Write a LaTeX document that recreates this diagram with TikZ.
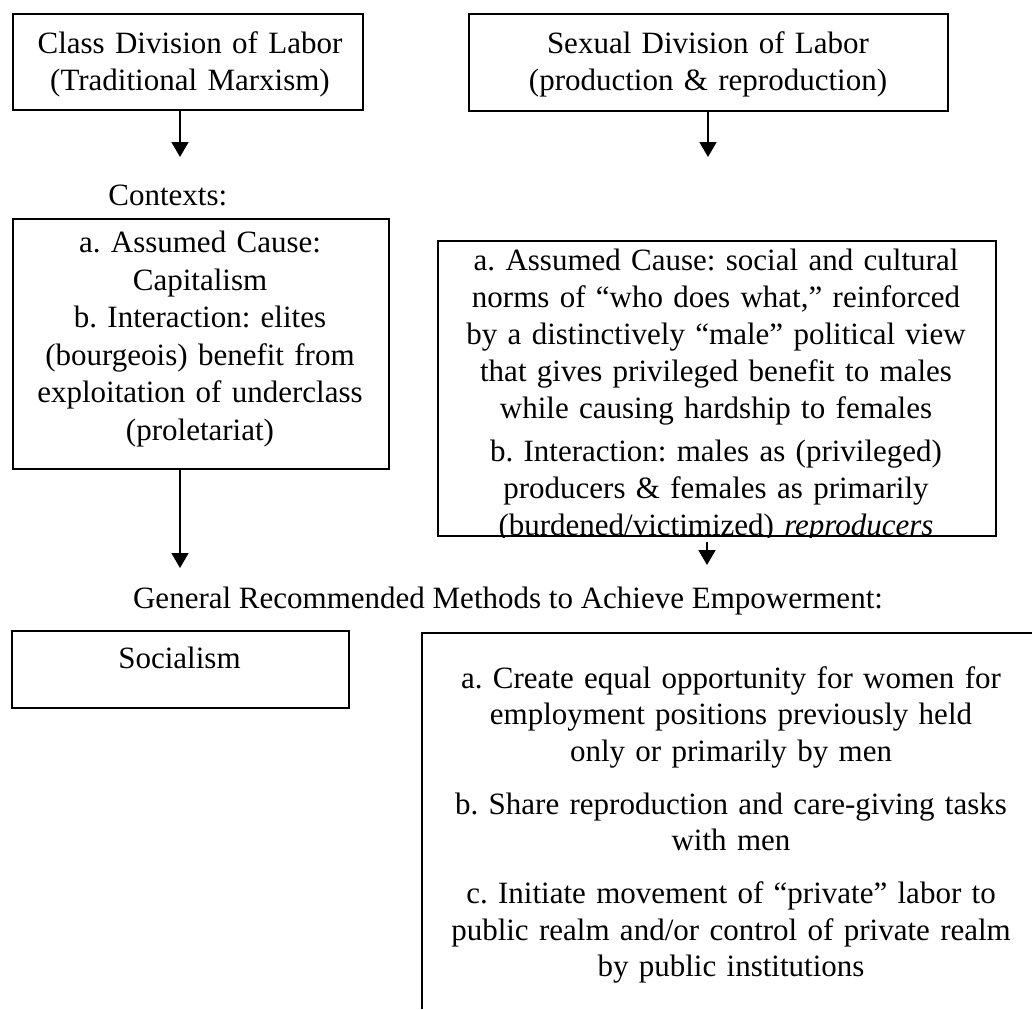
\documentclass[tikz,border=0pt]{standalone}
\usepackage{fontspec}
\setmainfont{Liberation Serif}
\usetikzlibrary{arrows.meta}
\frenchspacing
\begin{document}
\begin{tikzpicture}[x=0.5pt,y=-0.5pt,
  box/.style={draw,line width=1pt,rectangle,inner sep=0pt,anchor=north west},
  txt/.style={inner sep=0pt,anchor=north,align=center,text width=290pt,font=\fontsize{15.5}{18.5}\selectfont},
  lbl/.style={inner sep=0pt,anchor=base,font=\fontsize{15.5}{18.5}\selectfont},
  arr/.style={line width=0.8pt,-{Triangle[width=8.5pt,length=7.5pt]}}]
\useasboundingbox (0,0) rectangle (1032,1009);

% boxes
\node[box,minimum width=175pt,minimum height=48pt] (tl) at (12,13) {};
\node[box,minimum width=239.5pt,minimum height=48.5pt] (tr) at (468,13) {};
\node[box,minimum width=188pt,minimum height=125pt] (lm) at (12,218) {};
\node[box,minimum width=279pt,minimum height=147.5pt] (rm) at (437,240) {};
\node[box,minimum width=168.5pt,minimum height=38.5pt] (soc) at (11,630) {};
\draw[line width=1pt] (1032,633) -- (422,633) -- (422,1009);

% texts
\node[txt] (tlt) at (190,27.1) {\strut Class Division of Labor\\(Traditional Marxism)};
\node[txt] (trt) at (708,27.1) {\strut Sexual Division of Labor\\(production \& reproduction)};
\node[lbl,anchor=base west] (ctx) at (108,205) {Contexts:};
\node[txt,font=\fontsize{15.5}{18.8}\selectfont] (lmt) at (200,225.7) {\strut a. Assumed Cause:\\Capitalism\\b. Interaction: elites\\(bourgeois) benefit from\\exploitation of underclass\\(proletariat)};
\begin{scope}
\clip (rm.north west) rectangle (rm.south east);
\node[txt] (rmt) at (716,244.1) {\strut a. Assumed Cause: social and cultural\\norms of “who does what,” reinforced\\by a distinctively “male” political view\\that gives privileged benefit to males\\while causing hardship to females\\[3pt]b. Interaction: males as (privileged)\\producers \& females as primarily\\(burdened/victimized) \textit{reproducers}};
\end{scope}
\node[lbl] (gen) at (508,608) {General Recommended Methods to Achieve Empowerment:};
\node[lbl] (soct) at (179.5,668) {Socialism};
\node[txt,font=\fontsize{15.5}{18.15}\selectfont] (brt) at (731,662.6) {\strut a. Create equal opportunity for women for\\employment positions previously held\\only or primarily by men\\[8.5pt]b. Share reproduction and care-giving tasks\\with men\\[8.5pt]c. Initiate movement of “private” labor to\\public realm and/or control of private realm\\by public institutions};

% connectors
\coordinate (e1) at (180,157);
\coordinate (e2) at (708,157);
\coordinate (e3) at (180,568);
\coordinate (e4) at (707,565);
\draw[arr] (e1 |- tl.south) -- (e1);
\draw[arr] (e2 |- tr.south) -- (e2);
\draw[arr] (e3 |- lm.south) -- (e3);
\draw[arr] ([yshift=-2.5pt]e4 |- rm.south) -- (e4);
\end{tikzpicture}
\end{document}
